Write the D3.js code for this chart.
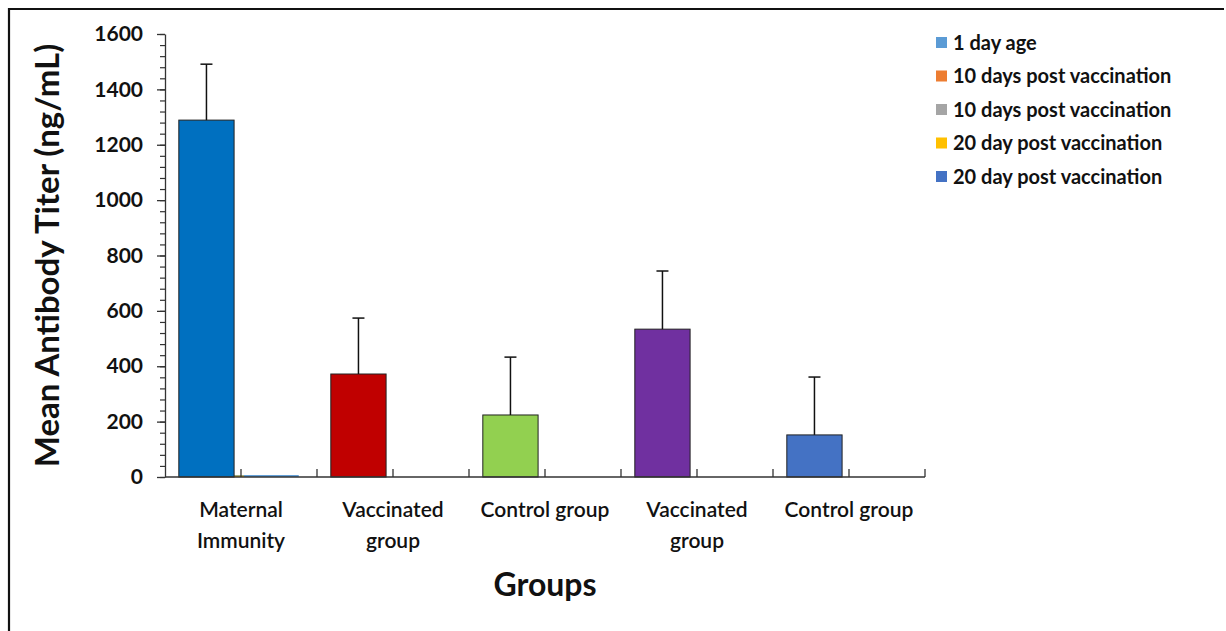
<!DOCTYPE html>
<html>
<head>
<meta charset="utf-8">
<script src="https://cdn.jsdelivr.net/npm/d3@7"></script>
<style>
  body { margin: 0; background: #fff; }
  svg { display: block; font-family: Lato, "Open Sans", sans-serif; }
</style>
</head>
<body>
<svg id="chart"></svg>
<script>
// data
let groups = ["Maternal Immunity", "Vaccinated group", "Control group", "Vaccinated group ", "Control group "]
let groupLabels = [["Maternal", "Immunity"], ["Vaccinated", "group"], ["Control group"], ["Vaccinated", "group"], ["Control group"]]
let means = [1289, 372, 224, 534, 152]
let errors = [202, 202, 209, 210, 209]
let barColors = ["#0070C0", "#C00000", "#92D050", "#7030A0", "#4472C4"]

let legendNames = ["1 day age", "10 days post vaccination", "10 days post vaccination", "20 day post vaccination", "20 day post vaccination"]
let legendColors = ["#5B9BD5", "#ED7D31", "#A5A5A5", "#FFC000", "#4472C4"]

// near-zero bars in the first group
let smallBars = [
    {series: 0, value: 7, from: 0.31, to: 0.88},
    {series: 3, value: 5, from: 0.43, to: 0.52}
]

let yTicks = [0, 200, 400, 600, 800, 1000, 1200, 1400, 1600]

let W = 1226, H = 631
let margin = {left: 165, right: 301, top: 34, bottom: 154}

let svg = d3.select("#chart").attr("width", W).attr("height", H)

// frame (top and left edges only)
svg.append("path")
    .attr("d", "M9," + H + "V9H1224")
    .attr("fill", "none")
    .attr("stroke", "#111")
    .attr("stroke-width", 2.2)

let x = d3.scaleBand()
    .domain(groups)
    .range([margin.left, W - margin.right])
    .padding(0)

let slot = d3.scaleBand()
    .domain(["main", "rest"])
    .range([0, x.bandwidth()])
    .paddingInner(0.2)
    .paddingOuter(0.2)

let y = d3.scaleLinear()
    .domain([0, 1600])
    .range([H - margin.bottom, margin.top])

// y axis with minor ticks
let minor = d3.range(0, 1601, 40)
let minorAxis = svg.append("g")
    .attr("transform", "translate(" + margin.left + ",0)")
    .call(d3.axisLeft(y).tickValues(minor).tickSize(5).tickFormat(""))
minorAxis.select(".domain").remove()
minorAxis.selectAll("line").attr("stroke", "#333").attr("stroke-width", 1.2)

let yAxis = svg.append("g")
    .attr("transform", "translate(" + margin.left + ",0)")
    .call(d3.axisLeft(y).tickValues(yTicks).tickSize(8).tickPadding(14).tickSizeOuter(0).tickFormat(d3.format("d")))
yAxis.select(".domain").attr("stroke", "#333").attr("stroke-width", 1.3)
yAxis.selectAll(".tick line").attr("stroke", "#333").attr("stroke-width", 1.3)
yAxis.selectAll("text")
    .attr("font-size", 21)
    .attr("font-weight", "bold")
    .attr("fill", "#111")
    .attr("font-family", "Lato")

// small bars
svg.append("g").selectAll("rect")
    .data(smallBars)
    .join("rect")
    .attr("x", d => x(groups[0]) + d.from * x.bandwidth())
    .attr("width", d => (d.to - d.from) * x.bandwidth())
    .attr("y", d => y(d.value))
    .attr("height", d => y(0) - y(d.value))
    .attr("fill", d => legendColors[d.series])

// main bars
let bars = groups.map((g, i) => ({group: g, value: means[i], err: errors[i], color: barColors[i]}))

svg.append("g").selectAll("rect")
    .data(bars)
    .join("rect")
    .attr("x", d => x(d.group) + slot("main"))
    .attr("width", slot.bandwidth())
    .attr("y", d => y(d.value))
    .attr("height", d => y(0) - y(d.value))
    .attr("fill", d => d.color)
    .attr("stroke", "#222")
    .attr("stroke-width", 1)

// error bars
let eb = svg.append("g").attr("stroke", "#111").attr("stroke-width", 1.5)
eb.selectAll("line.v")
    .data(bars)
    .join("line")
    .attr("class", "v")
    .attr("x1", d => x(d.group) + slot("main") + slot.bandwidth() / 2)
    .attr("x2", d => x(d.group) + slot("main") + slot.bandwidth() / 2)
    .attr("y1", d => y(d.value))
    .attr("y2", d => y(d.value + d.err))
eb.selectAll("line.cap")
    .data(bars)
    .join("line")
    .attr("class", "cap")
    .attr("x1", d => x(d.group) + slot("main") + slot.bandwidth() / 2 - 6)
    .attr("x2", d => x(d.group) + slot("main") + slot.bandwidth() / 2 + 6)
    .attr("y1", d => y(d.value + d.err))
    .attr("y2", d => y(d.value + d.err))

// x axis: ticks at group edges and centres
let xTickPos = []
groups.forEach(g => {
    xTickPos.push(x(g) + x.bandwidth() / 2)
    xTickPos.push(x(g) + x.bandwidth())
})
let xAxis = svg.append("g")
xAxis.append("line")
    .attr("x1", margin.left).attr("x2", W - margin.right)
    .attr("y1", y(0)).attr("y2", y(0))
    .attr("stroke", "#333").attr("stroke-width", 1.3)
xAxis.selectAll("line.t")
    .data(xTickPos)
    .join("line")
    .attr("class", "t")
    .attr("x1", d => d).attr("x2", d => d)
    .attr("y1", y(0)).attr("y2", y(0) - 8)
    .attr("stroke", "#333").attr("stroke-width", 1.3)

// group labels
let lab = svg.append("g")
    .attr("font-size", 21)
    .attr("font-weight", 600)
    .attr("fill", "#111")
    .attr("text-anchor", "middle")
groups.forEach((g, i) => {
    let t = lab.append("text")
        .attr("x", x(g) + x.bandwidth() / 2)
        .attr("y", y(0) + 40)
    groupLabels[i].forEach((line, j) => {
        t.append("tspan")
            .attr("x", x(g) + x.bandwidth() / 2)
            .attr("dy", j == 0 ? 0 : 31)
            .text(line)
    })
})

// axis titles
svg.append("text")
    .attr("x", (margin.left + W - margin.right) / 2)
    .attr("y", 596)
    .attr("text-anchor", "middle")
    .attr("font-size", 32)
    .attr("font-weight", "bold")
    .attr("fill", "#111")
    .text("Groups")

svg.append("text")
    .attr("transform", "translate(59," + ((margin.top + H - margin.bottom) / 2) + ") rotate(-90)")
    .attr("text-anchor", "middle")
    .attr("font-size", 33)
    .attr("font-weight", "bold")
    .attr("fill", "#111")
    .text("Mean Antibody Titer (ng/mL)")

// legend
let leg = svg.append("g").attr("transform", "translate(936,43)")
let items = leg.selectAll("g")
    .data(legendNames)
    .join("g")
    .attr("transform", (d, i) => "translate(0," + i * 33.5 + ")")
items.append("rect")
    .attr("x", 0).attr("y", -6)
    .attr("width", 11).attr("height", 11)
    .attr("fill", (d, i) => legendColors[i])
items.append("text")
    .attr("x", 17)
    .attr("y", 6.5)
    .attr("font-size", 20)
    .attr("font-weight", "bold")
    .attr("fill", "#111")
    .text(d => d)
</script>
</body>
</html>
